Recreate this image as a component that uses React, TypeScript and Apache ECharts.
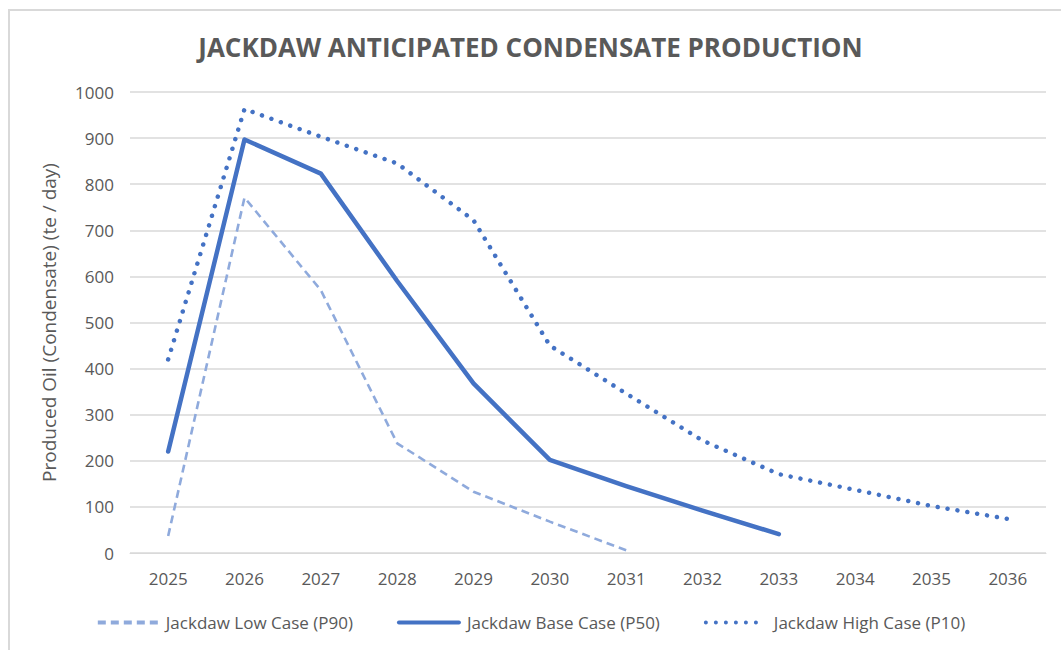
import React, { useEffect, useRef } from "react";
import * as echarts from "echarts";

const years = ["2025", "2026", "2027", "2028", "2029", "2030", "2031", "2032", "2033", "2034", "2035", "2036"];
const lowCase = [37, 771, 570, 238, 133, 68, 6];
const baseCase = [220, 897, 823, 590, 368, 202, 145, 92, 41];
const highCase = [420, 963, 903, 845, 722, 450, 346, 244, 171, 137, 102, 74];

const TITLE = "JACKDAW ANTICIPATED CONDENSATE PRODUCTION";
const Y_NAME = "Produced Oil (Condensate) (te / day)";
const NAMES = ["Jackdaw Low Case (P90)", "Jackdaw Base Case (P50)", "Jackdaw High Case (P10)"];

export default function App() {
  const ref = useRef<HTMLDivElement>(null);
  useEffect(() => {
    if (!ref.current) return;
    const chart = echarts.init(ref.current, undefined, { renderer: "svg" });
    const font = "'Open Sans', 'Noto Sans', sans-serif";
    chart.setOption({
      animation: false,
      backgroundColor: "#ffffff",
      textStyle: { fontFamily: font },
      title: {
        text: TITLE,
        left: "center",
        top: 29,
        textStyle: { fontSize: 26, fontWeight: "bold", color: "#595959", fontFamily: font },
      },
      graphic: [
        {
          type: "rect",
          shape: { x: 9, y: 10, width: 1080, height: 700 },
          style: { fill: "none", stroke: "#d9d9d9", lineWidth: 2 },
          silent: true,
        },
      ],
      legend: {
        bottom: 14,
        left: "center",
        itemWidth: 60,
        itemHeight: 12,
        itemGap: 44,
        itemStyle: { opacity: 0 },
        lineStyle: { width: 4 },
        textStyle: { fontSize: 17, color: "#595959", fontFamily: font, padding: [0, 0, 0, 3] },
        data: NAMES,
      },
      grid: { left: 130, right: 15, top: 92, bottom: 97, containLabel: false },
      xAxis: {
        type: "category",
        data: years,
        boundaryGap: true,
        axisLine: { show: true, lineStyle: { color: "#d9d9d9", width: 1 } },
        axisTick: { show: false },
        axisLabel: { fontSize: 17, color: "#595959", margin: 17 },
      },
      yAxis: {
        type: "value",
        min: 0,
        max: 1000,
        interval: 100,
        name: Y_NAME,
        nameLocation: "middle",
        nameGap: 72,
        nameTextStyle: { fontSize: 19, color: "#595959" },
        axisLine: { show: false },
        axisTick: { show: false },
        axisLabel: {
          fontSize: 17,
          color: "#595959",
          margin: 16,
          formatter: (v: number) => String(v),
        },
        splitLine: { lineStyle: { color: "#d9d9d9", width: 1.5 } },
      },
      series: [
        {
          name: NAMES[0],
          type: "line",
          data: lowCase,
          symbol: "none",
          lineStyle: { color: "#8FAADC", width: 2.6, type: [8, 5] },
          itemStyle: { color: "#8FAADC" },
          z: 2,
        },
        {
          name: NAMES[1],
          type: "line",
          data: baseCase,
          symbol: "none",
          lineStyle: { color: "#4472C4", width: 4.5, cap: "round", join: "round" },
          itemStyle: { color: "#4472C4" },
          z: 3,
        },
        {
          name: NAMES[2],
          type: "line",
          data: highCase,
          symbol: "none",
          lineStyle: { color: "#4472C4", width: 4.5, type: [0.01, 10], cap: "round", join: "round" },
          itemStyle: { color: "#4472C4" },
          z: 4,
        },
      ],
    });
    return () => chart.dispose();
  }, []);
  return (
    <div style={{ position: "fixed", left: 0, top: 0, width: 1061, height: 650, background: "#fff" }}>
      <div ref={ref} style={{ width: 1061, height: 650 }} />
    </div>
  );
}
